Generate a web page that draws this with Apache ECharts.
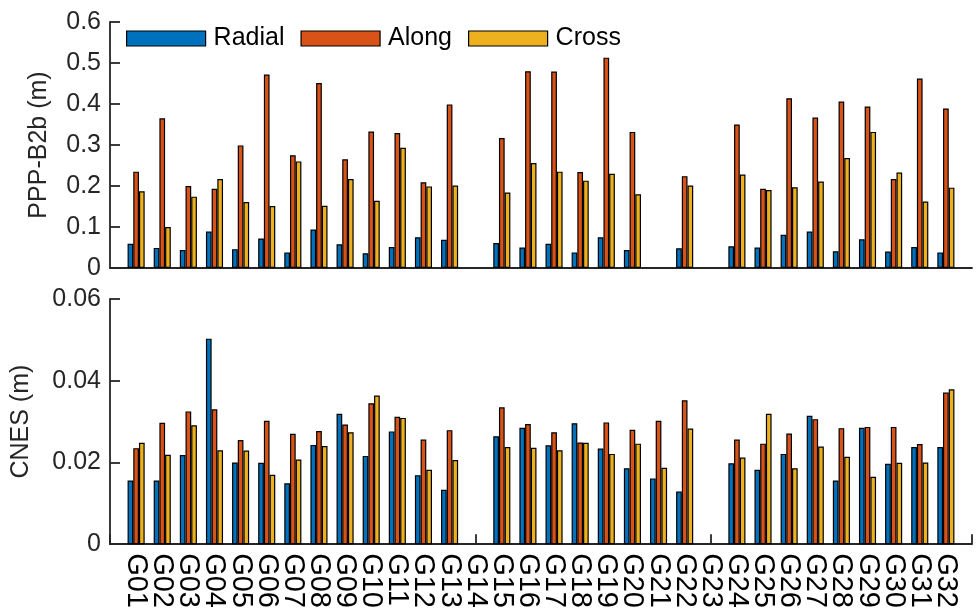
<!DOCTYPE html>
<html><head><meta charset="utf-8">
<script src="https://cdn.jsdelivr.net/npm/echarts@6/dist/echarts.min.js"></script>
<style>html,body{margin:0;padding:0;background:#fff}#c{width:976px;height:611px}</style>
</head><body><div id="c"></div>
<script>
const sats = ['G01','G02','G03','G04','G05','G06','G07','G08','G09','G10','G11','G12','G13','G14','G15','G16','G17','G18','G19','G20','G21','G22','G23','G24','G25','G26','G27','G28','G29','G30','G31','G32'];
const seriesNames = ['Radial','Along','Cross'];
const topRadial = [0.059,0.049,0.044,0.089,0.046,0.072,0.038,0.094,0.058,0.036,0.051,0.075,0.069,null,0.061,0.050,0.059,0.038,0.075,0.044,null,0.048,null,0.053,0.050,0.081,0.089,0.041,0.070,0.040,0.051,0.038];
const topAlong = [0.235,0.365,0.200,0.193,0.299,0.472,0.275,0.451,0.265,0.333,0.329,0.209,0.399,null,0.317,0.480,0.479,0.234,0.513,0.332,null,0.224,null,0.350,0.193,0.414,0.367,0.406,0.394,0.217,0.462,0.389];
const topCross = [0.187,0.100,0.174,0.217,0.161,0.151,0.260,0.152,0.217,0.164,0.293,0.199,0.201,null,0.184,0.256,0.235,0.213,0.230,0.180,null,0.201,null,0.228,0.190,0.197,0.211,0.268,0.332,0.233,0.162,0.196];
const botRadial = [0.0156,0.0156,0.0218,0.0503,0.0200,0.0199,0.0149,0.0243,0.0319,0.0216,0.0276,0.0169,0.0133,null,0.0264,0.0285,0.0242,0.0296,0.0234,0.0186,0.0161,0.0129,null,0.0198,0.0182,0.0221,0.0314,0.0156,0.0285,0.0197,0.0238,0.0238];
const botAlong = [0.0235,0.0297,0.0325,0.0330,0.0255,0.0302,0.0270,0.0277,0.0293,0.0345,0.0312,0.0256,0.0279,null,0.0335,0.0294,0.0274,0.0249,0.0298,0.0280,0.0302,0.0352,null,0.0256,0.0246,0.0271,0.0306,0.0284,0.0287,0.0287,0.0245,0.0371];
const botCross = [0.0248,0.0219,0.0291,0.0230,0.0229,0.0170,0.0207,0.0240,0.0274,0.0364,0.0309,0.0182,0.0206,null,0.0238,0.0236,0.0230,0.0248,0.0221,0.0246,0.0187,0.0283,null,0.0212,0.0319,0.0186,0.0239,0.0214,0.0165,0.0199,0.0200,0.0379];
const topTicks = [0,0.1,0.2,0.3,0.4,0.5,0.6];
const botTicks = [0,0.02,0.04,0.06];

const colors = ['#0072BD','#D95319','#EDB120'];
const FONT = "'Liberation Sans', Arial, sans-serif";
const AX = '#262626';

function pts(arr){ return arr.map((v,i)=>[i+1, v]); }

const xBase = {
  type:'value', min:0, max:sats.length+1, interval:1,
  axisLine:{show:true, onZero:false, lineStyle:{color:AX, width:1.8}},
  splitLine:{show:false}
};
function yAxis(idx, ticks, name, gap, dec){
  return {
    type:'value', gridIndex:idx, min:ticks[0], max:ticks[ticks.length-1], interval:ticks[1]-ticks[0],
    name:name, nameLocation:'middle', nameGap:gap, nameRotate:90,
    nameTextStyle:{fontFamily:FONT, fontSize:25, color:'#262626'},
    axisLine:{show:true, lineStyle:{color:AX, width:1.8}},
    axisTick:{show:true, inside:true, length:10, lineStyle:{color:AX, width:1.8}},
    splitLine:{show:false},
    axisLabel:{fontFamily:FONT, fontSize:25, color:'#262626', margin:9,
      formatter:v=> v===0 ? '0' : v.toFixed(dec)}
  };
}
const data = [[topRadial,topAlong,topCross],[botRadial,botAlong,botCross]];
const series = [];
for (let g=0; g<2; g++){
  for (let s=0; s<3; s++){
    series.push({
      type:'bar', name:seriesNames[s], xAxisIndex:g, yAxisIndex:g,
      data:pts(data[g][s]), barWidth:5.7, barGap:'0%',
      itemStyle:{color:colors[s], borderColor:'#000', borderWidth:1.2},
      emphasis:{disabled:true}, animation:false
    });
  }
}
const chart = echarts.init(document.getElementById('c'), null, {renderer:'canvas'});
chart.setOption({
  animation:false,
  grid:[{left:110, right:4, top:22, height:246},{left:110, right:4, top:299, height:246}],
  legend:{data:seriesNames, left:121, top:21, itemWidth:79, itemHeight:15, itemGap:16, icon:'rect',
    textStyle:{fontFamily:FONT, fontSize:25, color:'#000', padding:[0,0,0,3]},
    itemStyle:{borderColor:'#000', borderWidth:1.2}},
  xAxis:[
    Object.assign({gridIndex:0, axisTick:{show:false}, axisLabel:{show:false}}, xBase),
    Object.assign({gridIndex:1,
      axisTick:{show:true, inside:true, length:10, lineStyle:{color:AX, width:1.8}},
      axisLabel:{fontFamily:FONT, fontSize:29, color:'#000', rotate:-90, margin:9,
        formatter:v=> (v>=1 && v<=sats.length) ? sats[v-1] : ''}}, xBase)
  ],
  yAxis:[yAxis(0, topTicks, 'PPP-B2b (m)', 58, 1), yAxis(1, botTicks, 'CNES (m)', 76, 2)],
  series:series
});
</script></body></html>
